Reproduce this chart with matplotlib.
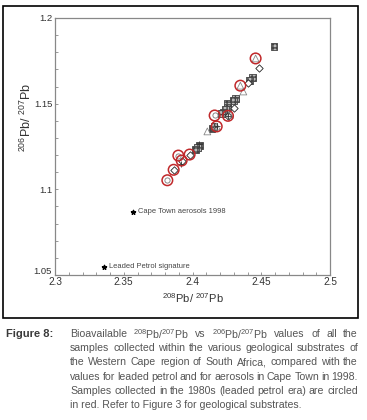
import matplotlib
matplotlib.use("Agg")
import matplotlib.pyplot as plt
import matplotlib.transforms as mtransforms
from matplotlib import font_manager
from matplotlib.patches import Rectangle


def pick_font(names):
    for n in names:
        try:
            font_manager.findfont(n, fallback_to_default=False)
            return n
        except Exception:
            pass
    return "DejaVu Sans"


SANS = pick_font(["Liberation Sans", "Arial"])
NARROW = pick_font(["Liberation Sans Narrow", "Liberation Sans"])

plt.rcParams["font.family"] = SANS
plt.rcParams["mathtext.fontset"] = "custom"
plt.rcParams["mathtext.rm"] = SANS
plt.rcParams["mathtext.it"] = SANS
plt.rcParams["mathtext.bf"] = SANS

# data
square_x = [2.4593, 2.4435, 2.4416, 2.4312, 2.4297, 2.4256, 2.4253, 2.4239,
            2.4224, 2.4210, 2.4142, 2.4156, 2.4050, 2.4035, 2.4021]
square_y = [1.1834, 1.1653, 1.1636, 1.1529, 1.1519, 1.1499, 1.1480, 1.1464,
            1.1449, 1.1441, 1.1357, 1.1367, 1.1254, 1.1244, 1.1234]
diamond_x = [2.4486, 2.4304, 2.4406, 2.3863, 2.3921, 2.3979, 2.4258]
diamond_y = [1.1708, 1.1474, 1.1620, 1.1114, 1.1168, 1.1203, 1.1429]
triangle_x = [2.4459, 2.4348, 2.4108, 2.4370, 2.4273, 2.4176]
triangle_y = [1.1764, 1.1605, 1.1338, 1.1571, 1.1435, 1.1367]
circle_x = [2.3817, 2.3897, 2.4161]
circle_y = [1.1053, 1.1197, 1.1431]
plus_x = [2.4050, 2.3915, 2.4176, 2.4258]
plus_y = [1.1266, 1.1150, 1.1367, 1.1429]
red_x = [2.3817, 2.3863, 2.3897, 2.3921, 2.3979, 2.4161, 2.4176, 2.4258, 2.4348, 2.4459]
red_y = [1.1053, 1.1114, 1.1197, 1.1168, 1.1203, 1.1431, 1.1367, 1.1429, 1.1605, 1.1764]

ref_x = [2.3565, 2.3354]
ref_y = [1.0870, 1.0549]
ref_labels = ["Cape Town aerosols 1998", "Leaded Petrol signature"]

caption_lines = [
    r"Bioavailable $^{208}$Pb/$^{207}$Pb vs $^{206}$Pb/$^{207}$Pb values of all the",
    "samples collected within the various geological substrates of",
    "the Western Cape region of South Africa, compared with the",
    "values for leaded petrol and for aerosols in Cape Town in 1998.",
    "Samples collected in the 1980s (leaded petrol era) are circled",
    "in red. Refer to Figure 3 for geological substrates.",
]

W, H = 367, 420
fig = plt.figure(figsize=(W / 100, H / 100), dpi=100)
ax = fig.add_axes([55 / W, 1 - 275 / H, 275 / W, 257 / H])

ax.scatter(square_x, square_y, marker="s", s=24, facecolor="#bbbbbb",
           edgecolor="#444444", hatch="++++", linewidths=0.6, zorder=3)
ax.scatter(diamond_x, diamond_y, marker="D", s=14, facecolor="white",
           edgecolor="#222222", linewidths=0.6, zorder=4)
ax.scatter(triangle_x, triangle_y, marker="^", s=24, facecolor="none",
           edgecolor="#888888", linewidths=0.6, zorder=4)
ax.scatter(circle_x, circle_y, marker="o", s=14, facecolor="white",
           edgecolor="#777777", linewidths=0.6, zorder=4)
ax.scatter(plus_x, plus_y, marker="+", s=20, color="#333333",
           linewidths=0.6, zorder=5)
ax.scatter(red_x, red_y, marker="o", s=58, facecolor="none",
           edgecolor="#c0282a", linewidths=1.1, zorder=6)

ax.scatter(ref_x, ref_y, marker="*", s=10, color="black", zorder=5)
for x, y, lab in zip(ref_x, ref_y, ref_labels):
    ax.text(x + 0.004, y, lab, fontsize=5.4, color="#444444", va="center")

ax.set_xlim(2.3, 2.5)
ax.set_ylim(1.05, 1.2)
ax.set_xticks([2.3, 2.35, 2.4, 2.45, 2.5])
ax.set_xticklabels(["2.3", "2.35", "2.4", "2.45", "2.5"])
ax.set_yticks([1.05, 1.1, 1.15, 1.2])
ax.set_yticklabels(["1.05", "1.1", "1.15", "1.2"])
ax.set_xticks([2.3 + 0.01 * i for i in range(21)], minor=True)
ax.set_yticks([1.05 + 0.01 * i for i in range(16)], minor=True)
ax.tick_params(which="both", direction="in", length=2.2, width=0.6,
               color="#888888", labelsize=6.8, labelcolor="#333333", pad=2,
               top=False, right=False)
ax.tick_params(axis="x", labelsize=7.2, pad=1.5)
for sp in ax.spines.values():
    sp.set_color("#888888")
    sp.set_linewidth(0.9)

# the lowest y label sits a little higher, as in the reference
lowest = ax.get_yticklabels()[0]
lowest.set_transform(lowest.get_transform() +
                     mtransforms.ScaledTranslation(-1 / 100, 4 / 100,
                                                   fig.dpi_scale_trans))

ax.set_xlabel(r"$^{208}$Pb/ $^{207}$Pb", fontsize=8, color="#333333", labelpad=3)
ax.set_ylabel(r"$^{206}$Pb/ $^{207}$Pb", fontsize=9, color="#333333")
ax.yaxis.set_label_coords(-0.075, 0.615)

# outer frame
fig.add_artist(Rectangle((3 / W, 1 - 318 / H), 355 / W, 312 / H,
                         transform=fig.transFigure, fill=False,
                         edgecolor="black", linewidth=1.2))

# caption
fig.text(6 / W, 1 - 334 / H, "Figure 8:", fontsize=8, fontweight="bold",
         family=NARROW, color="#3a3a3a", va="center")

renderer = fig.canvas.get_renderer()
x0, x1 = 70, 358
cap_size = 7.6
for i, line in enumerate(caption_lines):
    yc = 1 - (334 + 14.2 * i) / H
    if i == len(caption_lines) - 1:
        fig.text(x0 / W, yc, line, fontsize=cap_size, family=NARROW,
                 color="#555555", va="center")
        continue
    words = line.split(" ")
    texts = [fig.text(0, yc, w, fontsize=cap_size, family=NARROW,
                      color="#555555", va="center") for w in words]
    widths = [t.get_window_extent(renderer).width for t in texts]
    gap = (x1 - x0 - sum(widths)) / (len(words) - 1)
    x = x0
    for t, w in zip(texts, widths):
        t.set_x(x / W)
        x += w + gap

fig.savefig("out.png", dpi=100)
